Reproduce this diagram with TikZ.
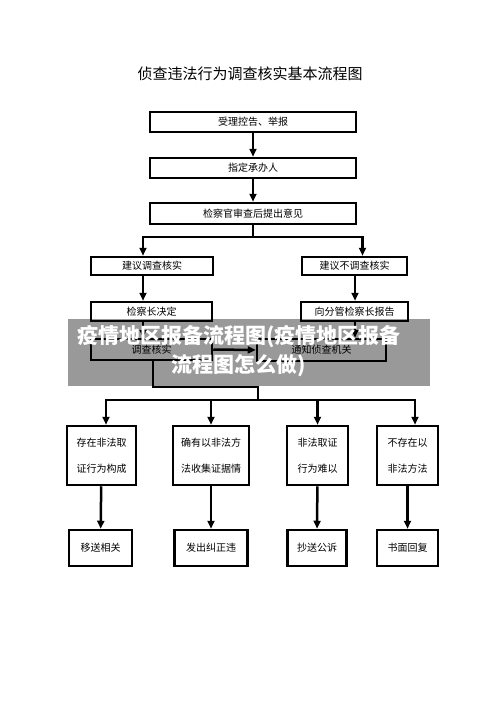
\documentclass[tikz,border=0pt]{standalone}
\usepackage{fontspec}
\newfontfamily\cjk{Noto Sans CJK SC}
\usetikzlibrary{arrows.meta,calc}

\begin{document}
\begin{tikzpicture}[x=1pt, y=-1pt,
                    box_style/.style={draw, line width=2.5pt, inner sep=0pt,
                                      font=\cjk\fontsize{10}{12}\selectfont},
                    tall_style/.style={box_style, align=center,
                                       font=\cjk\fontsize{10}{26}\selectfont},
                    edge_style/.style={-{Triangle[length=8pt,width=7pt]}, line width=2.5pt, draw=black},
                    line_style/.style={line width=2.5pt, draw=black}
   ]
   \useasboundingbox (0,0) rectangle (500,706);
   \node[font=\cjk\fontsize{15}{18}\selectfont] (title) at (250,74) {侦查违法行为调查核实基本流程图};
   % Main column
   \node[box_style, minimum width=206pt, minimum height=20pt] (t1) at (253,122) {受理控告、举报};
   \node[box_style, minimum width=206pt, minimum height=20pt] (t2) at (253,168) {指定承办人};
   \node[box_style, minimum width=206pt, minimum height=21pt] (t3) at (253,213.5) {检察官审查后提出意见};
   % Two branches
   \node[box_style, minimum width=122pt, minimum height=18pt] (l1) at (152,266) {建议调查核实};
   \node[box_style, minimum width=105pt, minimum height=18pt] (r1) at (354.5,266) {建议不调查核实};
   \node[box_style, minimum width=121pt, minimum height=19pt] (l2) at (151.5,311.5) {检察长决定};
   \node[box_style, minimum width=107pt, minimum height=19pt] (r2) at (354.5,311.5) {向分管检察长报告};
   \node[box_style, minimum width=121pt, minimum height=21pt] (l3) at (151.5,349.5) {调查核实};
   \node[box_style, minimum width=129pt, minimum height=22pt] (r3) at (321.5,350) {通知侦查机关};
   % Results
   \node[tall_style, minimum width=69pt, minimum height=59pt] (a1) at (101.5,455.5) {存在非法取\\证行为构成};
   \node[tall_style, minimum width=76pt, minimum height=59pt] (b1) at (211,455.5) {确有以非法方\\法收集证据情};
   \node[tall_style, minimum width=61pt, minimum height=59pt] (c1) at (317.5,455.5) {非法取证\\行为难以};
   \node[tall_style, minimum width=61pt, minimum height=59pt] (d1) at (407.5,455.5) {不存在以\\非法方法};
   \node[box_style, minimum width=63pt, minimum height=36pt] (a2) at (100.5,548) {移送相关};
   \node[box_style, minimum width=73pt, minimum height=36pt] (b2) at (211,548) {发出纠正违};
   \node[box_style, minimum width=59pt, minimum height=36pt] (c2) at (317,548) {抄送公诉};
   \node[box_style, minimum width=61pt, minimum height=36pt] (d2) at (407.5,548) {书面回复};

   \coordinate (split) at (253,237);
   \coordinate (colL) at (143,0);
   \coordinate (colR) at (355,0);
   \coordinate (bend) at (153,387);
   \coordinate (join) at (258,400);

    \draw[edge_style]  (t1) edge node{} (t2);
    \draw[edge_style]  (t2) edge node{} (t3);
    \draw[line_style]  (t3.south) -- (split);
    \draw[edge_style]  (split) -| (l1.north -| colL);
    \draw[edge_style]  (split) -| ($(r1.north)+(8,0)$);
    \draw[edge_style]  (l1.south -| colL) -- (l2.north -| colL);
    \draw[edge_style]  (r1.south -| colR) -- (r2.north -| colR);
    \draw[edge_style]  (l2.south -| colL) -- (l3.north -| colL);
    \draw[edge_style]  (r2.south -| colR) -- (r3.north -| colR);
    \draw[edge_style]  (l3.east) -- (r3.west);
    \draw[line_style]  (l3.south -| bend) |- (bend -| join) -- (join);
    \draw[edge_style]  (join) -| ($(a1.north)+(4.5,0)$);
    \draw[edge_style]  (join) -| (b1.north);
    \draw[edge_style]  (join) -| (c1.north);
    \draw[edge_style]  (join) -| ($(d1.north)+(7.5,0)$);
    \draw[edge_style]  (a1) edge node{} (a2);
    \draw[edge_style]  (b1) edge node{} (b2);
    \draw[edge_style]  (c1) edge node{} (c2);
    \draw[edge_style]  (d1) edge node{} (d2);

   % Banner on top
   \fill[black, opacity=0.4] (68,319) rectangle (430,386);
   \node[text=white, align=center, font=\cjk\bfseries\fontsize{21}{29}\selectfont] (mark) at (239,351)
        {疫情地区报备流程图(疫情地区报备\\流程图怎么做)};
    \end{tikzpicture}
\end{document}
